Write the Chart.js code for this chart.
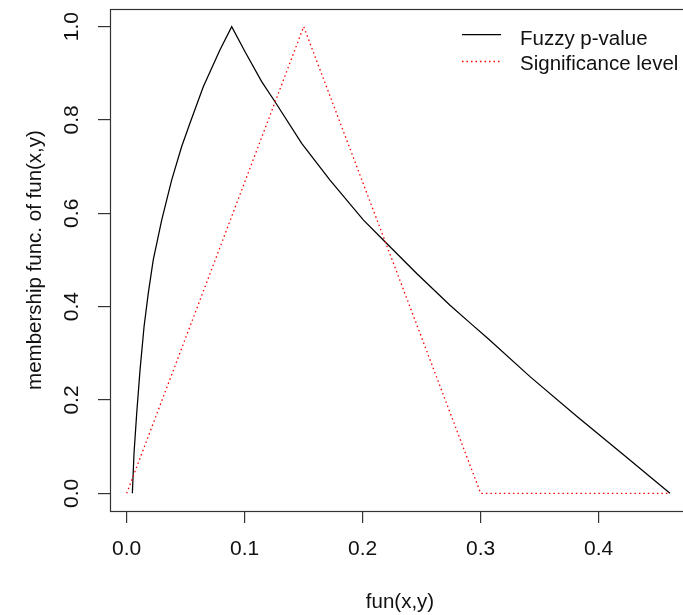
<!DOCTYPE html>
<html>
<head>
<meta charset="utf-8">
<script src="https://cdn.jsdelivr.net/npm/chart.js@4/dist/chart.umd.min.js"></script>
<style>
  html, body { margin: 0; padding: 0; background: #fff; }
  #wrap { width: 683px; height: 615px; overflow: hidden; position: relative; }
  canvas { display: block; }
</style>
</head>
<body>
<div id="wrap"><canvas id="c" width="700" height="615"></canvas></div>
<script>
// Membership function of the fuzzy p-value
const pvalX = [0.0048, 0.0062, 0.0085, 0.0113, 0.0147, 0.0183, 0.0225, 0.0297, 0.0381, 0.0466,
               0.0536, 0.0649, 0.0790, 0.0890, 0.1003, 0.1144, 0.1257, 0.1483, 0.1723, 0.2005,
               0.2189, 0.2458, 0.2740, 0.2924, 0.3064, 0.3418, 0.3814, 0.4208, 0.4604];
const pvalY = [0.000, 0.086, 0.172, 0.264, 0.357, 0.429, 0.500, 0.586, 0.671, 0.743,
               0.793, 0.871, 0.950, 1.000, 0.946, 0.882, 0.839, 0.750, 0.671, 0.586,
               0.539, 0.471, 0.403, 0.362, 0.331, 0.250, 0.165, 0.083, 0.000];

// Triangular fuzzy significance level
const sigX = [0, 0.15, 0.30, 0.4604];
const sigY = [0, 1, 0, 0];

const xTicks = [0, 0.1, 0.2, 0.3, 0.4];
const yTicks = [0, 0.2, 0.4, 0.6, 0.8, 1.0];

const seriesNames = ['Fuzzy p-value', 'Significance level'];
const xTitle = 'fun(x,y)';
const yTitle = 'membership func. of fun(x,y)';

const FONT = '"Liberation Sans", Arial, Helvetica, sans-serif';
const INK = '#111';

const toPoints = (xs, ys) => xs.map((x, i) => ({ x: x, y: ys[i] }));

const whiteBg = {
  id: 'whiteBg',
  beforeDraw(chart) {
    const ctx = chart.ctx;
    ctx.save();
    ctx.fillStyle = '#fff';
    ctx.fillRect(0, 0, chart.width, chart.height);
    ctx.restore();
  }
};

// Plot box, rotated y tick labels and the in-plot legend
const frame = {
  id: 'frame',
  afterDraw(chart) {
    const ctx = chart.ctx;
    const a = chart.chartArea;
    const ys = chart.scales.y;
    ctx.save();
    ctx.strokeStyle = '#333';
    ctx.lineWidth = 1.2;
    ctx.strokeRect(Math.round(a.left) + 0.5, Math.round(a.top) + 0.5,
                   Math.round(a.right - a.left), Math.round(a.bottom - a.top));

    ctx.fillStyle = INK;
    ctx.font = '21px ' + FONT;
    ctx.textAlign = 'center';
    ctx.textBaseline = 'middle';
    ys.ticks.forEach(t => {
      const py = ys.getPixelForValue(t.value);
      ctx.save();
      ctx.translate(72.5, py);
      ctx.rotate(-Math.PI / 2);
      ctx.fillText(t.value.toFixed(1), 0, 0);
      ctx.restore();
    });

    const ds = chart.data.datasets;
    const lineY = [34, 61];
    const textY = [44.5, 69.5];
    ctx.font = '20.5px ' + FONT;
    ctx.textAlign = 'left';
    ctx.textBaseline = 'alphabetic';
    ds.forEach((d, i) => {
      ctx.save();
      ctx.strokeStyle = d.borderColor;
      ctx.lineWidth = d.borderWidth;
      ctx.setLineDash(d.borderDash || []);
      ctx.beginPath();
      ctx.moveTo(462, lineY[i] + 0.5);
      ctx.lineTo(501, lineY[i] + 0.5);
      ctx.stroke();
      ctx.restore();
      ctx.fillStyle = INK;
      ctx.fillText(d.label, 520, textY[i]);
    });
    ctx.restore();
  }
};

new Chart(document.getElementById('c'), {
  type: 'line',
  data: {
    datasets: [
      {
        label: seriesNames[0],
        data: toPoints(pvalX, pvalY),
        borderColor: '#000',
        borderWidth: 1.25,
        pointRadius: 0,
        tension: 0,
        fill: false,
        order: 1
      },
      {
        label: seriesNames[1],
        data: toPoints(sigX, sigY),
        borderColor: '#ff0000',
        borderWidth: 1.3,
        borderDash: [1.5, 3],
        pointRadius: 0,
        tension: 0,
        fill: false,
        order: 0
      }
    ]
  },
  options: {
    responsive: false,
    animation: false,
    devicePixelRatio: 1,
    layout: { padding: { top: 9, right: 10, left: 0, bottom: 0 } },
    plugins: {
      legend: { display: false },
      tooltip: { enabled: false }
    },
    scales: {
      x: {
        type: 'linear',
        min: -0.01415,
        max: 0.4774,
        afterBuildTicks: s => { s.ticks = xTicks.map(v => ({ value: v })); },
        afterFit: s => { s.height = 104; },
        border: { display: false },
        grid: {
          drawOnChartArea: false,
          drawTicks: true,
          tickLength: 12,
          color: '#333',
          lineWidth: 1.2
        },
        ticks: {
          padding: 14,
          maxRotation: 0,
          color: INK,
          font: { family: FONT, size: 21 },
          callback: v => Number(v).toFixed(1)
        },
        title: {
          display: true,
          text: xTitle,
          color: INK,
          font: { family: FONT, size: 20.5 },
          padding: { top: 0, bottom: 0 }
        }
      },
      y: {
        type: 'linear',
        min: -0.0379,
        max: 1.0377,
        afterBuildTicks: s => { s.ticks = yTicks.map(v => ({ value: v })); },
        afterFit: s => { s.width = 110; },
        border: { display: false },
        grid: {
          drawOnChartArea: false,
          drawTicks: true,
          tickLength: 12,
          color: '#333',
          lineWidth: 1.2
        },
        ticks: { display: false },
        title: {
          display: true,
          text: yTitle,
          color: INK,
          font: { family: FONT, size: 20.5 },
          padding: { top: 22.7, bottom: 0 }
        }
      }
    }
  },
  plugins: [whiteBg, frame]
});
</script>
</body>
</html>
